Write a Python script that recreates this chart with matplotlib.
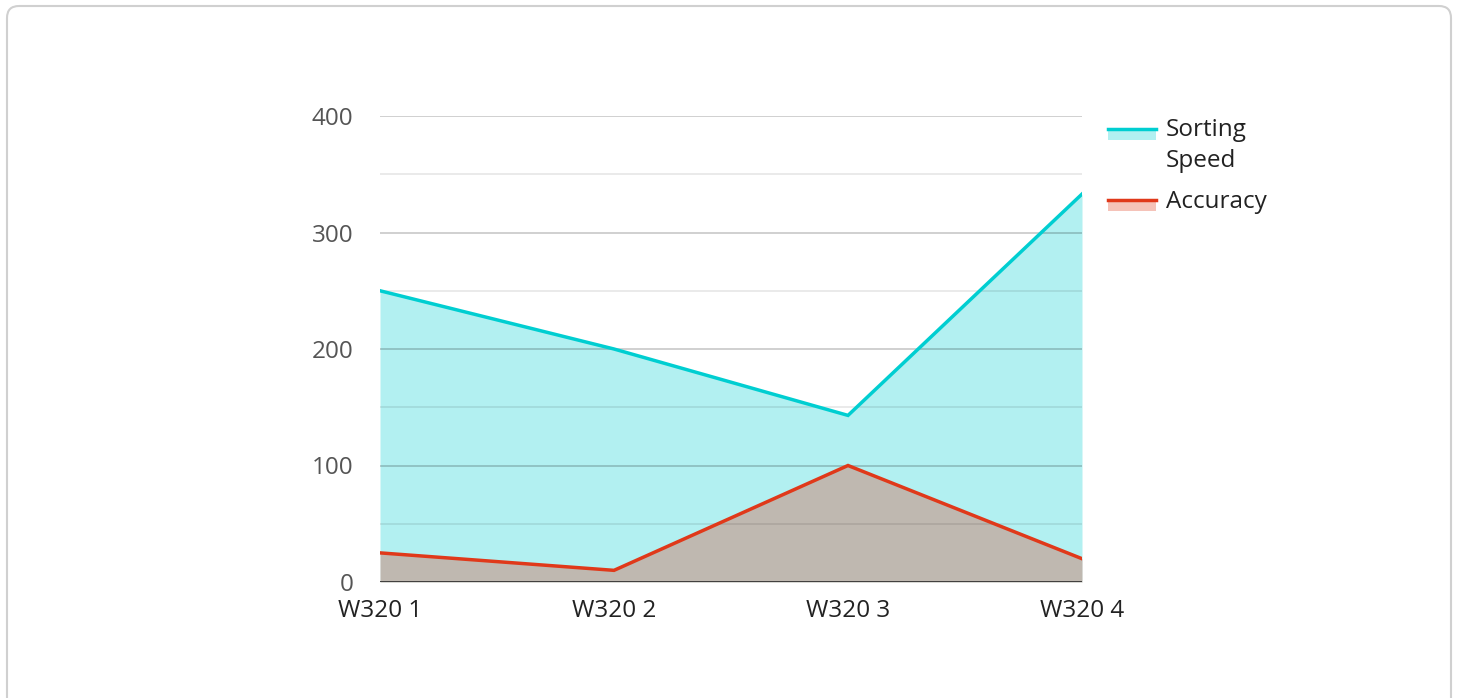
import matplotlib
matplotlib.use("Agg")
import matplotlib.pyplot as plt
from matplotlib.patches import Rectangle, FancyBboxPatch

# data
categories = ["W320 1", "W320 2", "W320 3", "W320 4"]
sorting_speed = [250, 200, 143, 333]
accuracy = [25, 10, 100, 20]
series_names = ["Sorting\nSpeed", "Accuracy"]

cyan = "#00ced1"
red = "#e0391a"
W, H = 1458, 698

plt.rcParams["font.family"] = ["Open Sans", "DejaVu Sans"]

fig = plt.figure(figsize=(W / 100, H / 100), dpi=100)

# background axes in pixel units for the card and the hand-made legend
bg = fig.add_axes([0, 0, 1, 1], zorder=-1)
bg.set_xlim(0, W)
bg.set_ylim(H, 0)
bg.axis("off")
bg.add_patch(FancyBboxPatch((7, 6), 1444, 720, boxstyle="round,pad=0,rounding_size=12",
                            fc="none", ec="#d0d0d0", lw=1.5))

ax = fig.add_axes([380 / W, 1 - 582 / H, 702 / W, 466 / H])
ax.set_facecolor("none")
x = range(len(categories))

ax.fill_between(x, sorting_speed, 0, color=cyan, alpha=0.3, lw=0, zorder=1)
ax.fill_between(x, accuracy, 0, color=red, alpha=0.3, lw=0, zorder=1)

# grid drawn on top of fills
for v in range(50, 401, 50):
    major = v % 100 == 0
    ax.axhline(v, color="black", alpha=0.2 if major else 0.09, lw=1.3, zorder=2)

ax.plot(x, sorting_speed, color=cyan, lw=2.5, zorder=4, solid_joinstyle="miter")
ax.plot(x, accuracy, color=red, lw=2.5, zorder=4, solid_joinstyle="miter")
ax.axhline(0, color="#333333", lw=2, zorder=5)

ax.set_xlim(0, 3)
ax.set_ylim(0, 400)
ax.set_xticks(list(x))
ax.set_xticklabels(categories, fontsize=17.5, color="#222222")
ax.set_yticks(range(0, 401, 100))
ax.tick_params(axis="y", labelsize=17.5, labelcolor="#555555", length=0, pad=19)
ax.tick_params(axis="x", length=0, pad=12)
for s in ax.spines.values():
    s.set_visible(False)

# legend drawn by hand: line on top of a light fill swatch
legend_rows = [(cyan, 129, 136), (red, 200, 208)]
for (color, ly, baseline), name in zip(legend_rows, series_names):
    bg.add_patch(Rectangle((1108, ly), 48, 11, fc=color, alpha=0.3, lw=0))
    bg.plot([1108, 1156], [ly, ly], color=color, lw=2.5)
    for i, part in enumerate(name.split("\n")):
        bg.text(1166, baseline + 31 * i, part, fontsize=17.5, color="#222222",
                va="baseline", ha="left")

fig.savefig("out.png", dpi=100)
